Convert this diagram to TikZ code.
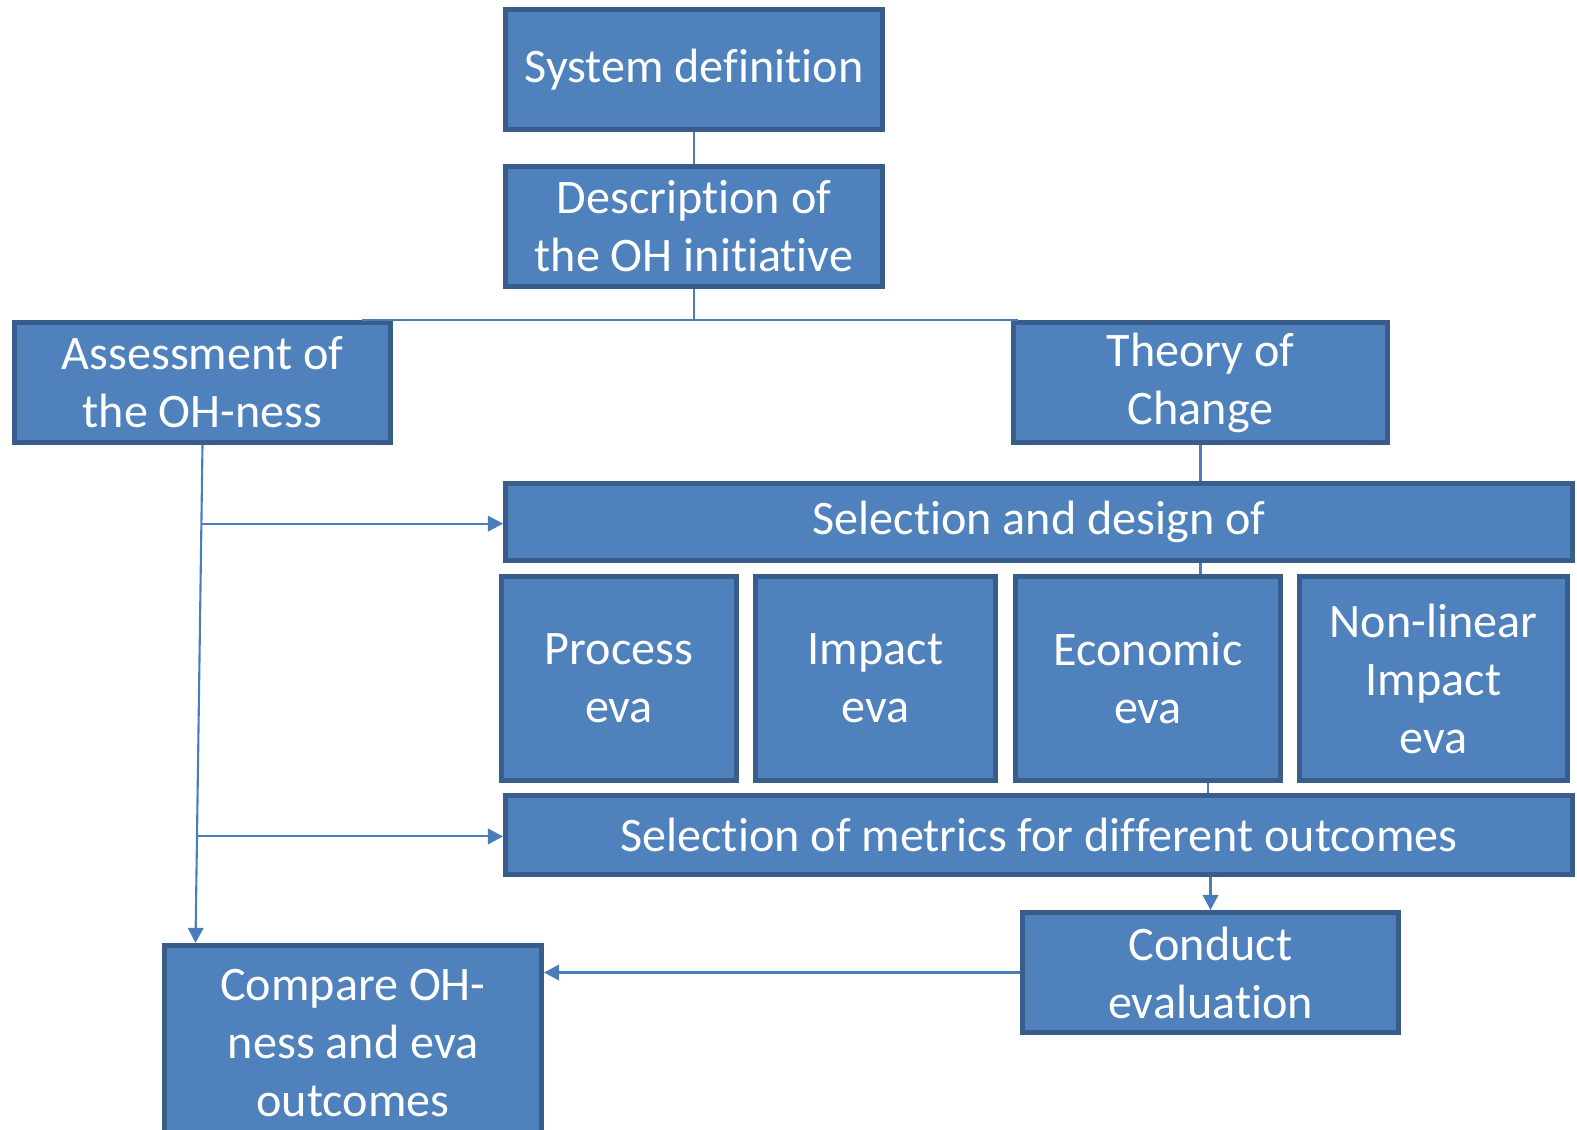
\documentclass[tikz,border=0pt]{standalone}
\usepackage{fontspec}
\setmainfont[Ligatures=NoCommon]{Carlito}
\usetikzlibrary{arrows.meta,calc}
\definecolor{boxblue}{HTML}{4F81BD}
\definecolor{boxedge}{HTML}{385D8A}
\definecolor{linkblue}{HTML}{4A7EBB}

\begin{document}
\begin{tikzpicture}[
    box/.style={draw=boxedge,line width=1.4pt,fill=boxblue,text=white,align=center,inner sep=0pt,
        font=\fontsize{13.7}{16.5}\selectfont},
    link/.style={draw=linkblue,line width=0.6pt},
    arr/.style={link,-{Triangle[width=4.4pt,length=4.3pt]}}]
    \clip (0,0) rectangle (15.77,-11.29);
    \node[box,minimum width=3.77cm,minimum height=1.20cm] (sys) at (6.94,-0.695) {System definition};
    \node[box,minimum width=3.77cm,minimum height=1.20cm] (desc) at (6.94,-2.265) {Description of\\the OH initiative};
    \node[box,minimum width=3.76cm,minimum height=1.20cm] (assess) at (2.025,-3.825) {Assessment of\\the OH-ness};
    \node[box,minimum width=3.74cm,minimum height=1.20cm] (toc) at (12.005,-3.825) {Theory of\\Change};
    \node[box,minimum width=10.67cm,minimum height=0.77cm] (seldes) at (10.39,-5.22) {Selection and design of};
    \node[box,minimum width=2.35cm,minimum height=2.04cm] (proc) at (6.19,-6.785) {Process\\eva};
    \node[box,minimum width=2.40cm,minimum height=2.04cm] (imp) at (8.755,-6.785) {Impact\\eva};
    \node[box,minimum width=2.65cm,minimum height=2.04cm] (econ) at (11.48,-6.785) {Economic\\eva};
    \node[box,minimum width=2.68cm,minimum height=2.04cm] (nonlin) at (14.335,-6.785) {Non-linear\\Impact\\eva};
    \node[box,minimum width=10.67cm,minimum height=0.79cm] (metrics) at (10.39,-8.35) {Selection of metrics for different outcomes};
    \node[box,minimum width=3.76cm,minimum height=1.20cm] (conduct) at (12.105,-9.725) {Conduct\\evaluation};
    \node[box,minimum width=3.77cm,minimum height=1.95cm] (compare) at (3.53,-10.43) {Compare OH-\\ness and eva\\outcomes};
    % top part
    \draw[link] (sys.south) -- (desc.north);
    \draw[link] (desc.south) -- (desc.south |- assess.north);
    \draw[link] ([xshift=1.595cm]assess.north) -- ([xshift=0.065cm]toc.north west);
    \draw[link] (toc.south) -- (toc.south |- seldes.north);
    \draw[link] (toc.south |- seldes.south) -- (toc.south |- econ.north);
    \draw[link] ([xshift=0.6cm]econ.south) -- ([xshift=0.6cm]econ.south |- metrics.north);
    \draw[arr] (conduct.north |- metrics.south) -- (conduct.north);
    \draw[arr] (conduct.west) -- (compare.east |- conduct.west);
    % left trunk
    \coordinate (trunkend) at (1.955,-9.43);
    \coordinate (b1) at ($(assess.south)!0.158!(trunkend)$);
    \coordinate (b2) at ($(assess.south)!0.786!(trunkend)$);
    \draw[arr] (assess.south) -- (trunkend);
    \draw[arr] (b1) -- (b1 -| seldes.west);
    \draw[arr] (b2) -- (b2 -| metrics.west);
\end{tikzpicture}
\end{document}
